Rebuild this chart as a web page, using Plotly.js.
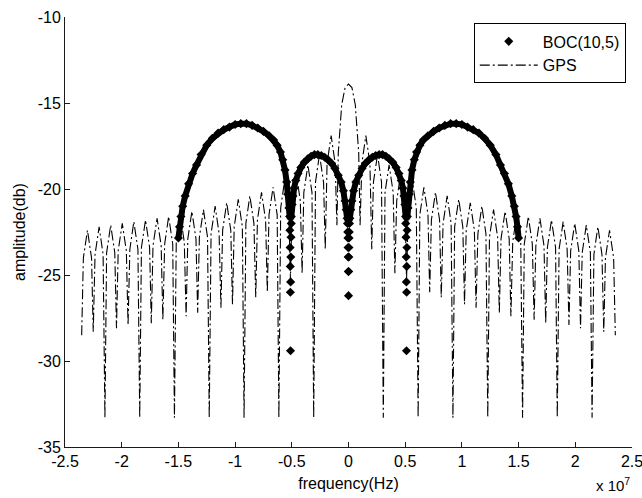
<!DOCTYPE html>
<html>
<head>
<meta charset="utf-8">
<script src="https://cdn.plot.ly/plotly-3.0.1.min.js"></script>
<style>
  html, body { margin: 0; padding: 0; background: #fff; }
  #chart { width: 642px; height: 498px; }
</style>
</head>
<body>
<div id="chart"></div>
<script>
// ---- Data (frequency in units of 1e7 Hz, amplitude in "db") ----
var xTickVals = [-2.5, -2, -1.5, -1, -0.5, 0, 0.5, 1, 1.5, 2, 2.5];
var xTickText = ["-2.5", "-2", "-1.5", "-1", "-0.5", "0", "0.5", "1", "1.5", "2", "2.5"];
var yTickVals = [-35, -30, -25, -20, -15, -10];
var yTickText = ["-35", "-30", "-25", "-20", "-15", "-10"];

// GPS spectrum (dash-dot line)
var gpsFreq = [
  -2.353, -2.338, -2.302, -2.266, -2.251, -2.235, -2.199, -2.164, -2.148, -2.133, -2.097, -2.061,
  -2.046, -2.031, -1.995, -1.959, -1.944, -1.928, -1.893, -1.857, -1.841, -1.826, -1.790, -1.754,
  -1.739, -1.724, -1.688, -1.652, -1.637, -1.621, -1.586, -1.550, -1.535, -1.519, -1.483, -1.448,
  -1.432, -1.417, -1.381, -1.345, -1.330, -1.315, -1.279, -1.243, -1.228, -1.212, -1.176, -1.141,
  -1.125, -1.110, -1.074, -1.038, -1.023, -1.008, -0.972, -0.936, -0.921, -0.905, -0.870, -0.834,
  -0.818, -0.803, -0.767, -0.731, -0.716, -0.701, -0.665, -0.629, -0.614, -0.598, -0.563, -0.527,
  -0.512, -0.496, -0.460, -0.425, -0.409, -0.394, -0.358, -0.322, -0.307, -0.291, -0.256, -0.220,
  -0.205, -0.189, -0.153, -0.118, -0.102, -0.090, -0.060, -0.030, 0,
  0.030, 0.060, 0.090, 0.102, 0.118, 0.153, 0.189, 0.205, 0.220, 0.256, 0.291, 0.307,
  0.322, 0.358, 0.394, 0.409, 0.425, 0.460, 0.496, 0.512, 0.527, 0.563, 0.598, 0.614,
  0.629, 0.665, 0.701, 0.716, 0.731, 0.767, 0.803, 0.818, 0.834, 0.870, 0.905, 0.921,
  0.936, 0.972, 1.008, 1.023, 1.038, 1.074, 1.110, 1.125, 1.141, 1.176, 1.212, 1.228,
  1.243, 1.279, 1.315, 1.330, 1.345, 1.381, 1.417, 1.432, 1.448, 1.483, 1.519, 1.535,
  1.550, 1.586, 1.621, 1.637, 1.652, 1.688, 1.724, 1.739, 1.754, 1.790, 1.826, 1.841,
  1.857, 1.893, 1.928, 1.944, 1.959, 1.995, 2.031, 2.046, 2.061, 2.097, 2.133, 2.148,
  2.164, 2.199, 2.235, 2.251, 2.266, 2.302, 2.338, 2.353
];
var gpsDb = [
  -28.5, -24.0, -22.4, -24.0, -28.3, -23.8, -22.2, -23.8, -33.3, -23.7, -22.1, -23.7,
  -28.1, -23.6, -22.0, -23.6, -27.9, -23.5, -21.9, -23.5, -33.3, -23.4, -21.8, -23.4,
  -27.8, -23.3, -21.7, -23.3, -27.6, -23.2, -21.6, -23.2, -33.3, -23.1, -21.5, -23.1,
  -27.4, -22.9, -21.3, -22.9, -27.2, -22.8, -21.2, -22.8, -33.3, -22.6, -21.0, -22.6,
  -26.9, -22.4, -20.8, -22.4, -26.7, -22.2, -20.6, -22.2, -33.3, -22.0, -20.4, -22.0,
  -26.3, -21.8, -20.2, -21.8, -26.0, -21.5, -19.9, -21.5, -33.3, -21.1, -19.5, -21.1,
  -25.3, -20.7, -19.1, -20.7, -24.9, -20.2, -18.6, -20.2, -33.3, -19.6, -18.0, -19.6,
  -23.5, -18.5, -16.9, -18.5, -22.1, -17.9, -15.1, -14.1, -13.9,
  -14.1, -15.1, -17.9, -22.1, -18.5, -16.9, -18.5, -23.5, -19.6, -18.0, -19.6, -33.3,
  -20.2, -18.6, -20.2, -24.9, -20.7, -19.1, -20.7, -25.3, -21.1, -19.5, -21.1, -33.3,
  -21.5, -19.9, -21.5, -26.0, -21.8, -20.2, -21.8, -26.3, -22.0, -20.4, -22.0, -33.3,
  -22.2, -20.6, -22.2, -26.7, -22.4, -20.8, -22.4, -26.9, -22.6, -21.0, -22.6, -33.3,
  -22.8, -21.2, -22.8, -27.2, -22.9, -21.3, -22.9, -27.4, -23.1, -21.5, -23.1, -33.3,
  -23.2, -21.6, -23.2, -27.6, -23.3, -21.7, -23.3, -27.8, -23.4, -21.8, -23.4, -33.3,
  -23.5, -21.9, -23.5, -27.9, -23.6, -22.0, -23.6, -28.1, -23.7, -22.1, -23.7, -33.3,
  -23.8, -22.2, -23.8, -28.3, -24.0, -22.4, -24.0, -28.5
];

// BOC(10,5) spectrum: lobe arcs
var bocFreq = [
  -1.500, -1.490, -1.478, -1.462, -1.440, -1.410, -1.375, -1.340, -1.300, -1.250, -1.200, -1.150,
  -1.100, -1.050, -1.000, -0.950, -0.900, -0.850, -0.800, -0.750, -0.700, -0.660, -0.630, -0.600,
  -0.580, -0.560, -0.545, -0.535, -0.525, -0.519,
  -0.504, -0.497, -0.490, -0.480, -0.465, -0.445, -0.420, -0.390, -0.360, -0.330, -0.300, -0.270,
  -0.240, -0.210, -0.180, -0.150, -0.120, -0.090, -0.065, -0.045, -0.030, -0.020, -0.012,
  0.012, 0.020, 0.030, 0.045, 0.065, 0.090, 0.120, 0.150, 0.180, 0.210, 0.240, 0.270,
  0.300, 0.330, 0.360, 0.390, 0.420, 0.445, 0.465, 0.480, 0.490, 0.497, 0.504,
  0.519, 0.525, 0.535, 0.545, 0.560, 0.580, 0.600, 0.630, 0.660, 0.700, 0.750, 0.800,
  0.850, 0.900, 0.950, 1.000, 1.050, 1.100, 1.150, 1.200, 1.250, 1.300, 1.340, 1.375,
  1.410, 1.440, 1.462, 1.478, 1.490, 1.500
];
var bocDb = [
  -22.85, -22.2, -21.6, -21.0, -20.4, -19.7, -19.1, -18.6, -18.0, -17.45, -17.05, -16.75,
  -16.55, -16.4, -16.25, -16.2, -16.2, -16.3, -16.45, -16.65, -16.9, -17.15, -17.45, -17.85,
  -18.3, -18.9, -19.6, -20.3, -21.1, -21.6,
  -21.6, -20.9, -20.4, -19.95, -19.5, -19.1, -18.75, -18.45, -18.25, -18.1, -18.0, -18.0,
  -18.05, -18.15, -18.3, -18.5, -18.8, -19.2, -19.6, -20.1, -20.7, -21.2, -21.7,
  -21.7, -21.2, -20.7, -20.1, -19.6, -19.2, -18.8, -18.5, -18.3, -18.15, -18.05, -18.0,
  -18.0, -18.1, -18.25, -18.45, -18.75, -19.1, -19.5, -19.95, -20.4, -20.9, -21.6,
  -21.6, -21.1, -20.3, -19.6, -18.9, -18.3, -17.85, -17.45, -17.15, -16.9, -16.65, -16.45,
  -16.3, -16.2, -16.2, -16.25, -16.4, -16.55, -16.75, -17.05, -17.45, -18.0, -18.6, -19.1,
  -19.7, -20.4, -21.0, -21.6, -22.2, -22.85
];
// BOC(10,5) spectrum: isolated samples near the nulls
var bocNullFreq = [
  -0.5045, -0.5172, -0.5068, -0.5150, -0.5089, -0.5135, -0.5102, -0.5125, -0.5113,
  -0.0084, 0.0084, -0.0067, 0.0067, -0.0051, 0.0051, -0.0039, 0.0039, -0.0025, 0.0025, -0.0012, 0.0012, 0.0,
  0.5045, 0.5172, 0.5068, 0.5150, 0.5089, 0.5135, 0.5102, 0.5125, 0.5113
];
var bocNullDb = [
  -22.0, -22.4, -22.8, -23.4, -23.95, -24.5, -25.4, -26.0, -29.4,
  -22.0, -22.0, -22.5, -22.5, -22.85, -22.85, -23.4, -23.4, -23.95, -23.95, -24.8, -24.8, -26.2,
  -22.0, -22.4, -22.8, -23.4, -23.95, -24.5, -25.4, -26.0, -29.4
];

var FONT = "Liberation Sans, Arial, Helvetica, sans-serif";

var traces = [
  {
    x: gpsFreq, y: gpsDb, type: "scatter", mode: "lines", name: "GPS",
    line: { color: "#000000", width: 1.1, dash: "10px,3px,2px,3px" },
    legendrank: 2, hoverinfo: "skip"
  },
  {
    x: bocFreq, y: bocDb, type: "scatter", mode: "lines", showlegend: false,
    line: { color: "#000000", width: 6 }, hoverinfo: "skip"
  },
  {
    x: bocFreq.concat(bocNullFreq), y: bocDb.concat(bocNullDb),
    type: "scatter", mode: "markers", name: "BOC(10,5)",
    marker: { symbol: "diamond", size: 7, color: "#000000" },
    legendrank: 1, hoverinfo: "skip"
  }
];

var axisCommon = {
  showgrid: false, zeroline: false, showline: true, linecolor: "#1a1a1a", linewidth: 1,
  ticks: "inside", ticklen: 5, tickwidth: 1, tickcolor: "#1a1a1a",
  tickfont: { family: FONT, size: 16, color: "#000" }, mirror: false,
  ticklabeloverflow: "allow"
};

var layout = {
  width: 642, height: 498,
  margin: { l: 65, r: 10, t: 17, b: 51 },
  paper_bgcolor: "#ffffff", plot_bgcolor: "#ffffff",
  font: { family: FONT, size: 16, color: "#000" },
  showlegend: true,
  xaxis: Object.assign({}, axisCommon, {
    range: [-2.5, 2.5], tickmode: "array", tickvals: xTickVals, ticktext: xTickText,
    title: { text: "frequency(Hz)", font: { family: FONT, size: 16, color: "#000" }, standoff: 8 }
  }),
  yaxis: Object.assign({}, axisCommon, {
    range: [-35, -10], tickmode: "array", tickvals: yTickVals, ticktext: yTickText,
    title: { text: "amplitude(db)", font: { family: FONT, size: 16, color: "#000" }, standoff: 8 }
  }),
  legend: {
    x: 0.989, xanchor: "right", y: 0.985, yanchor: "top",
    bgcolor: "#ffffff", bordercolor: "#000000", borderwidth: 1,
    font: { family: FONT, size: 16, color: "#000" },
    itemwidth: 58, tracegroupgap: 0
  },
  annotations: [
    {
      text: "x 10<sup>7</sup>", xref: "paper", yref: "paper",
      x: 1.0, xanchor: "right", y: -0.114, yanchor: "bottom",
      showarrow: false, font: { family: FONT, size: 15, color: "#000" }
    }
  ]
};

Plotly.newPlot("chart", traces, layout, { staticPlot: true, displayModeBar: false });
</script>
</body>
</html>
